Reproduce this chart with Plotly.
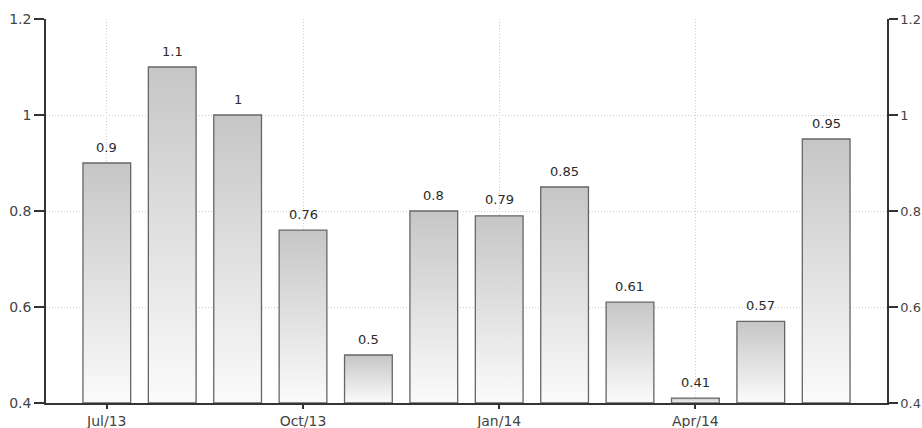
import plotly.graph_objects as go

months = ["Jul/13", "Aug/13", "Sep/13", "Oct/13", "Nov/13", "Dec/13",
          "Jan/14", "Feb/14", "Mar/14", "Apr/14", "May/14", "Jun/14"]
values = [0.9, 1.1, 1.0, 0.76, 0.5, 0.8, 0.79, 0.85, 0.61, 0.41, 0.57, 0.95]
labels = ["0.9", "1.1", "1", "0.76", "0.5", "0.8", "0.79", "0.85", "0.61", "0.41", "0.57", "0.95"]
tick_idx = [0, 3, 6, 9]
tick_text = ["Jul/13", "Oct/13", "Jan/14", "Apr/14"]
y_ticks = [0.4, 0.6, 0.8, 1.0, 1.2]
y_tick_text = ["0.4", "0.6", "0.8", "1", "1.2"]

BASE = 0.4
HALF = 0.365
FONT = "DejaVu Sans"

fig = go.Figure()
for i, v in enumerate(values):
    xs = [i - HALF, i - HALF, i + HALF, i + HALF, i - HALF]
    ys = [BASE, v, v, BASE, BASE]
    fig.add_trace(go.Scatter(
        x=xs, y=ys, mode="lines", fill="toself",
        line=dict(color="#666666", width=1.3),
        fillgradient=dict(type="vertical", start=BASE, stop=v,
                          colorscale=[[0, "#fbfbfb"], [1, "#c6c6c6"]]),
        hoverinfo="skip", showlegend=False,
    ))

for i, (v, t) in enumerate(zip(values, labels)):
    fig.add_annotation(x=i, y=v, text=t, showarrow=False, yshift=16,
                       font=dict(family=FONT, size=13, color="#2a2a2a"))

# invisible trace on right axis
fig.add_trace(go.Scatter(x=[0], y=[BASE], yaxis="y2", mode="markers",
                         marker=dict(opacity=0), hoverinfo="skip", showlegend=False))

axis_common = dict(
    range=[0.4, 1.2], tickvals=y_ticks, ticktext=y_tick_text,
    showline=True, linecolor="#333333", linewidth=1.5,
    ticks="outside", tickcolor="#333333", tickwidth=1.5,
    zeroline=False, automargin=False,
)

fig.update_layout(
    width=922, height=428,
    margin=dict(l=46, r=35, t=19, b=25),
    paper_bgcolor="white", plot_bgcolor="white",
    xaxis=dict(
        range=[-0.93, 11.93], tickvals=tick_idx, ticktext=tick_text,
        showline=True, linecolor="#333333", linewidth=1.5,
        ticks="outside", ticklen=4, tickcolor="#333333", tickwidth=1.5,
        tickfont=dict(family=FONT, size=14, color="#444444"),
        showgrid=True, gridcolor="#cccccc", griddash="1px,2px", gridwidth=1,
        zeroline=False, automargin=False,
    ),
    yaxis=dict(**axis_common, ticklen=10,
               tickfont=dict(family=FONT, size=14, color="#444444"),
               showgrid=True, gridcolor="#cccccc",
               griddash="1px,2px", gridwidth=1),
    yaxis2=dict(**axis_common, ticklen=9,
                tickfont=dict(family=FONT, size=13, color="#444444"),
                overlaying="y", side="right", showgrid=False),
)

fig.write_html("out.html")
